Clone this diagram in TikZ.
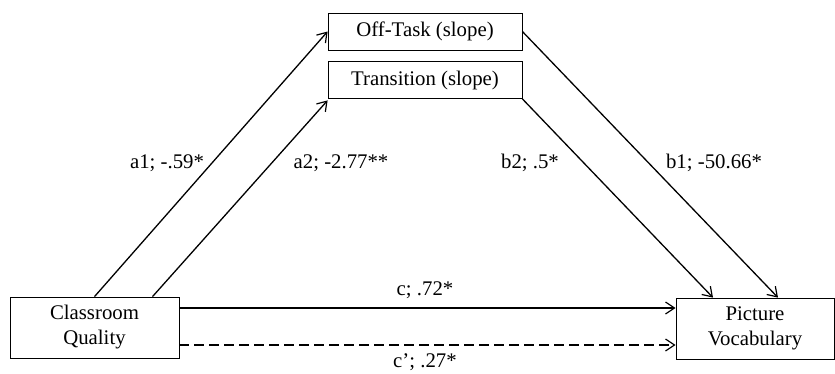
\documentclass[tikz,border=0pt]{standalone}
\usepackage{fontspec}
\setmainfont{Liberation Serif}
\usetikzlibrary{arrows.meta,calc}
\tikzset{
  varbox/.style={draw,line width=0.8pt,align=center,inner sep=0pt},
  path/.style={line width=1.3pt,-{Straight Barb[length=9pt,width=12pt,line width=1.2pt]}},
  coef/.style={inner sep=0pt}
}
\begin{document}
\begin{tikzpicture}[x=1pt,y=-1pt,font=\fontsize{20.8}{25}\selectfont]
 \useasboundingbox (0,0) rectangle (835,373);
 % variables
 \node[varbox,minimum width=194pt,minimum height=37pt] (offtask) at (425,31.5) {Off-Task (slope)};
 \node[varbox,minimum width=194pt,minimum height=37pt] (trans) at (425,80) {Transition (slope)};
 \node[varbox,minimum width=169pt,minimum height=61pt] (cq) at (94.5,327.5) {Classroom\\Quality};
 \node[varbox,minimum width=158pt,minimum height=61pt] (pv) at (755,328.5) {Picture\\Vocabulary};
 % a and b paths
 \draw[path] (cq.north) -- (offtask.west);
 \draw[path] ([xshift=58pt]cq.north) -- ([yshift=-1.5pt]trans.south west);
 \draw[path] (offtask.east) -- ([xshift=23pt]pv.north);
 \draw[path] (trans.south east) -- ([xshift=-42pt]pv.north);
 % direct paths
 \draw[path] ([yshift=19.5pt]cq.east) -- ([yshift=19.5pt]cq.east -| pv.west);
 \draw[path,dash pattern=on 10pt off 5pt] ([yshift=-17.5pt]cq.east) -- ([yshift=-17.5pt]cq.east -| pv.west);
 % coefficients
 \node[coef] (a1) at (167,163) {a1; -.59*};
 \node[coef] (a2) at (341,163) {a2; -2.77**};
 \node[coef] (b2) at (530,163) {b2; .5*};
 \node[coef] (b1) at (714,163) {b1; -50.66*};
 \node[coef] (c) at (425,290) {c; .72*};
 \node[coef] (cp) at (425,362) {c’; .27*};
\end{tikzpicture}
\end{document}
